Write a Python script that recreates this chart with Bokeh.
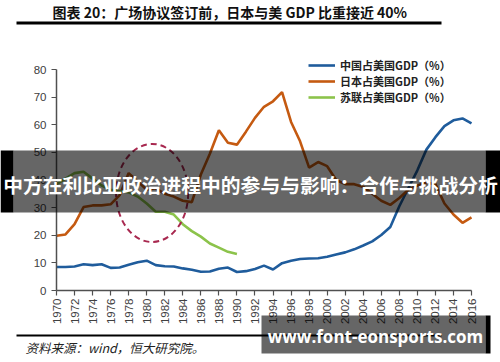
import math
from bokeh.plotting import figure
from bokeh.models import Range1d, Label, BoxAnnotation, Legend, LegendItem, FixedTicker
from bokeh.embed import file_html
from bokeh.resources import INLINE

# ---------------- data ----------------
YEARS = list(range(1970, 2017))
X_TICKS = list(range(1970, 2017, 2))
Y_TICKS = [0, 10, 20, 30, 40, 50, 60, 70, 80]

CHINA = [8.5, 8.5, 8.7, 9.5, 9.2, 9.5, 8.2, 8.3, 9.3, 10.2,
         10.8, 9.2, 8.8, 8.7, 8.0, 7.5, 6.8, 6.9, 7.9, 8.3,
         6.7, 7.0, 7.8, 9.0, 7.6, 9.9, 10.8, 11.4, 11.6, 11.7,
         12.2, 13.0, 13.8, 14.9, 16.3, 17.8, 20.1, 23.0, 30.5, 37.0,
         43.5, 51.0, 55.5, 59.5, 61.6, 62.3, 60.5]

JAPAN = [19.8, 20.3, 24.0, 30.2, 30.8, 30.8, 31.2, 34.5, 42.5, 39.5,
         36.5, 37.0, 35.0, 34.0, 32.5, 32.0, 42.0, 49.5, 58.0, 53.5,
         52.8, 57.5, 62.5, 66.5, 68.5, 71.8, 61.0, 54.0, 44.5, 46.5,
         45.0, 40.0, 38.5, 38.5, 37.5, 35.0, 32.5, 31.0, 33.5, 36.5,
         38.0, 39.0, 38.5, 31.5, 27.5, 24.5, 26.5]

USSR_YEARS = list(range(1970, 1991))
USSR = [38.5, 40.5, 42.5, 43.0, 40.5, 38.0, 36.5, 36.0, 35.5, 34.0,
        31.5, 28.5, 28.5, 27.5, 24.0, 21.5, 19.5, 17.0, 15.5, 14.0, 13.2]

SERIES_NAMES = ["中国占美国GDP（%）", "日本占美国GDP（%）", "苏联占美国GDP（%）"]
TITLE = "图表 20：广场协议签订前，日本与美 GDP 比重接近 40%"
SOURCE = "资料来源：wind，恒大研究院。"
BANNER = "中方在利比亚政治进程中的参与与影响：合作与挑战分析"
WATERMARK = "www.font-eonsports.com"

# highlight ellipse (annotation): centre year, centre value, width in years, height in %
CIRCLE = dict(x=1980.6, y=35.3, w=8.0, h=35.5)

BLUE, ORANGE, GREEN = "#1F5C9C", "#C55A11", "#8CC34B"

# ---------------- layout geometry (image pixels) ----------------
W, H = 500, 362
PX_X0, PX_X1 = 56, 471   # image x of 1970 and 2016
PX_Y0, PX_Y1 = 290, 69   # image y of 0 and 80
XS = 46 / (PX_X1 - PX_X0)
YS = 80 / (PX_Y0 - PX_Y1)

def X(px):
    return 1970 + (px - PX_X0) * XS

def Y(py):
    return (PX_Y0 - py) * YS

p = figure(width=W, height=H, output_backend="svg", toolbar_location=None,
           x_range=Range1d(X(0), X(W)), y_range=Range1d(Y(H), Y(0)),
           min_border=0, min_border_left=0, min_border_right=0,
           min_border_top=0, min_border_bottom=0)
p.outline_line_color = None
p.grid.visible = False

for ax in (p.xaxis[0], p.yaxis[0]):
    ax.axis_line_color = "#505050"
    ax.axis_line_width = 1.5
    ax.major_tick_line_color = "#505050"
    ax.major_tick_line_width = 1.2
    ax.major_tick_in = 0
    ax.major_tick_out = 5
    ax.minor_tick_line_color = None
    ax.major_label_text_font = "Liberation Sans"
    ax.major_label_text_font_size = "11.5px"
    ax.major_label_text_color = "#404040"

p.xaxis.fixed_location = 0
p.xaxis.bounds = (1970, 2016)
p.xaxis.ticker = FixedTicker(ticks=X_TICKS)
p.xaxis.major_label_orientation = math.pi / 2
p.xaxis.major_label_standoff = 3
p.yaxis.fixed_location = 1970
p.yaxis.bounds = (0, 80)
p.yaxis.ticker = FixedTicker(ticks=Y_TICKS)
p.yaxis.major_label_standoff = 5

r_cn = p.line(YEARS, CHINA, line_color=BLUE, line_width=2.6)
r_jp = p.line(YEARS, JAPAN, line_color=ORANGE, line_width=2.6)
r_su = p.line(USSR_YEARS, USSR, line_color=GREEN, line_width=2.6)

p.ellipse(x=[CIRCLE["x"]], y=[CIRCLE["y"]], width=[CIRCLE["w"]], height=[CIRCLE["h"]],
          fill_alpha=0, line_color="#A8284F", line_width=2, line_dash="6 4")

# legend: one row per series so each row sits exactly where the reference has it
ROW_CENTRES = [65, 81, 97]
for name, rend, yc in zip(SERIES_NAMES, [r_cn, r_jp, r_su], ROW_CENTRES):
    lg = Legend(items=[LegendItem(label=name, renderers=[rend])],
                location=(308, H - (yc + 8)), padding=0, spacing=0, margin=0,
                glyph_width=27, glyph_height=16, label_height=16, label_standoff=5,
                label_text_font="Noto Sans CJK SC", label_text_font_style="bold",
                label_text_font_size="11px", label_text_color="#222222",
                border_line_color=None, background_fill_alpha=0)
    p.add_layout(lg)

# title and rules
p.add_layout(Label(x=X(52), y=Y(11), text=TITLE, text_baseline="middle",
                   text_font="Noto Sans CJK SC", text_font_style="bold",
                   text_font_size="14px", text_color="#111111"))
p.add_layout(BoxAnnotation(left=X(16), right=X(441), top=Y(21), bottom=Y(24),
                           fill_color="black", fill_alpha=1, line_color=None))
p.add_layout(BoxAnnotation(left=X(16), right=X(441), top=Y(334), bottom=Y(336),
                           fill_color="black", fill_alpha=1, line_color=None))
p.add_layout(Label(x=X(25), y=Y(347), text=SOURCE, text_baseline="middle",
                   text_font="Noto Sans CJK SC", text_font_style="italic",
                   text_font_size="12.5px", text_color="#222222"))

# overlay banner
p.add_layout(BoxAnnotation(left=X(0), right=X(13), top=Y(150), bottom=Y(212),
                           fill_color="black", fill_alpha=1, line_color=None))
p.add_layout(BoxAnnotation(left=X(485), right=X(500), top=Y(150), bottom=Y(212),
                           fill_color="black", fill_alpha=1, line_color=None))
p.add_layout(BoxAnnotation(left=X(13), right=X(485), top=Y(150), bottom=Y(212),
                           fill_color="black", fill_alpha=0.6, line_color=None))
p.add_layout(Label(x=X(250), y=Y(184), text=BANNER, text_align="center", text_baseline="middle",
                   text_font="Noto Sans CJK SC", text_font_style="bold",
                   text_font_size="19.8px", text_color="white"))

# watermark
p.add_layout(BoxAnnotation(left=X(261), right=X(485), top=Y(315), bottom=Y(353),
                           fill_color="black", fill_alpha=0.6, line_color=None))
p.add_layout(BoxAnnotation(left=X(485), right=X(490), top=Y(315), bottom=Y(353),
                           fill_color="black", fill_alpha=1, line_color=None))
p.add_layout(Label(x=X(375), y=Y(336), text=WATERMARK, text_align="center", text_baseline="middle",
                   text_font="Open Sans", text_font_style="bold",
                   text_font_size="17px", text_color="white"))

open("out.html", "w").write(file_html(p, INLINE))
